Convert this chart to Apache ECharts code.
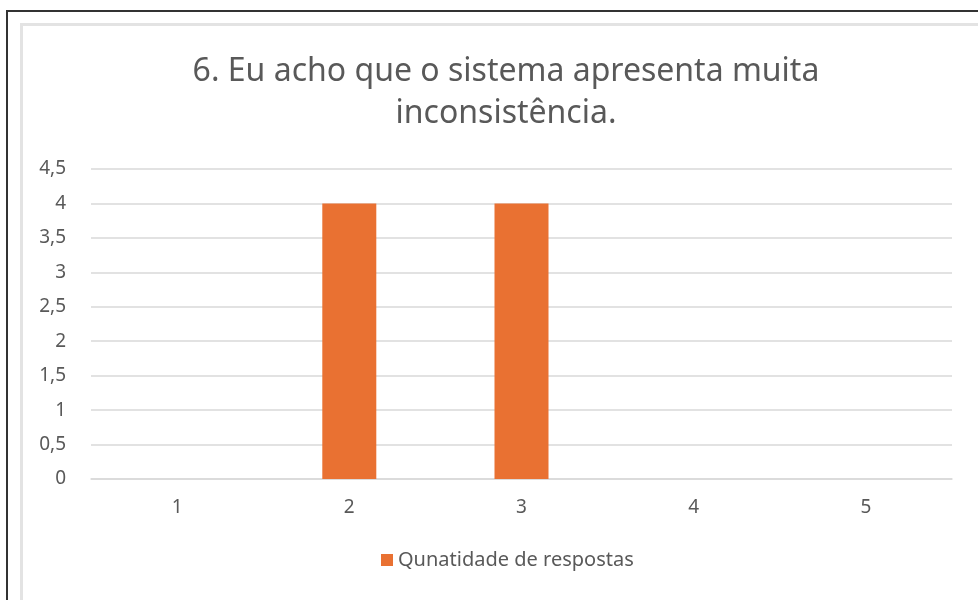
<!DOCTYPE html>
<html>
<head>
<meta charset="utf-8">
<script src="https://cdn.jsdelivr.net/npm/echarts@6/dist/echarts.min.js"></script>
<style>
body{margin:0;background:#fff;}
#wrap{position:relative;width:978px;height:600px;overflow:hidden;background:#fff;}
#outer{position:absolute;left:6px;top:10px;width:1000px;height:700px;border-left:2px solid #333;border-top:2px solid #333;}
#inner{position:absolute;left:20px;top:23px;width:1000px;height:700px;border-left:3px solid #e3e3e3;border-top:3px solid #e3e3e3;}
#main{position:absolute;left:0;top:0;width:978px;height:600px;}
</style>
</head>
<body>
<div id="wrap">
<div id="outer"></div>
<div id="inner"></div>
<div id="main"></div>
</div>
<script>
var categories = ['1', '2', '3', '4', '5'];
var respostas = [0, 4, 4, 0, 0];
var seriesName = 'Qunatidade de respostas';
var titleText = '6. Eu acho que o sistema apresenta muita\ninconsistência.';

var chart = echarts.init(document.getElementById('main'));
var option = {
    animation: false,
    title: {
        text: titleText,
        left: 501,
        top: 46,
        textAlign: 'center',
        textStyle: {
            color: '#595959',
            fontSize: 32,
            fontWeight: 'normal',
            fontFamily: 'Noto Sans',
            lineHeight: 42
        }
    },
    legend: {
        bottom: 25,
        left: 376,
        itemWidth: 12,
        itemHeight: 12,
        itemGap: 8,
        icon: 'rect',
        textStyle: {
            color: '#595959',
            fontSize: 20,
            fontFamily: 'Noto Sans'
        },
        data: [seriesName]
    },
    grid: {
        left: 91,
        right: 26,
        top: 169,
        bottom: 121,
        containLabel: false
    },
    xAxis: {
        type: 'category',
        data: categories,
        axisTick: {show: false},
        axisLine: {lineStyle: {color: '#d9d9d9', width: 1.5}},
        axisLabel: {color: '#595959', fontSize: 19, fontFamily: 'Noto Sans', margin: 19}
    },
    yAxis: {
        type: 'value',
        min: 0,
        max: 4.5,
        interval: 0.5,
        axisLine: {show: false},
        axisTick: {show: false},
        splitLine: {lineStyle: {color: '#d9d9d9', width: 1.5}},
        axisLabel: {
            color: '#595959',
            fontSize: 19,
            fontFamily: 'Noto Sans',
            margin: 25,
            formatter: function (v) { return String(v).replace('.', ','); }
        }
    },
    series: [{
        name: seriesName,
        type: 'bar',
        data: respostas,
        barWidth: 54,
        itemStyle: {color: '#E97132'}
    }]
};
chart.setOption(option);
</script>
</body>
</html>
